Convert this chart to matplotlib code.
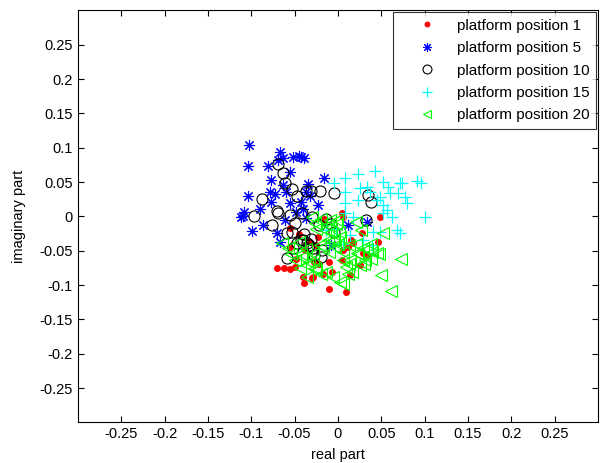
import numpy as np
import matplotlib
matplotlib.use('Agg')
import matplotlib.pyplot as plt

plt.rcParams['font.family'] = ['Liberation Sans', 'DejaVu Sans']

# platform position 1 (red dots)
pos1_re = [-0.070, -0.062, -0.055, -0.050, -0.040, -0.030, -0.039, -0.010, 0.009,
           -0.055, -0.032, -0.023, -0.007, -0.017, -0.029, -0.055, -0.048, -0.045,
           -0.025, -0.028, -0.022, -0.010, -0.016, 0.006, 0.005, 0.048, 0.028,
           0.046, 0.017, 0.012, 0.006, 0.033, 0.029, 0.025, 0.014, 0.005, 0.015,
           -0.038]
pos1_im = [-0.075, -0.075, -0.077, -0.074, -0.088, -0.090, -0.097, -0.106, -0.110,
           -0.017, -0.037, -0.030, -0.081, -0.084, -0.088, -0.044, -0.062, -0.026,
           -0.042, -0.066, -0.069, -0.066, -0.004, -0.001, 0.005, -0.001, -0.024,
           -0.037, -0.039, -0.044, -0.049, -0.056, -0.053, -0.071, -0.085, -0.063,
           -0.034, -0.049]

# platform position 5 (blue asterisks)
pos5_re = [-0.103, -0.104, -0.081, -0.067, -0.063, -0.069, -0.052, -0.045, -0.039,
           -0.043, -0.077, -0.016, -0.104, -0.078, -0.073, -0.060, -0.063, -0.077,
           -0.090, -0.108, -0.112, -0.110, -0.087, -0.099, -0.070, -0.067, -0.035,
           -0.037, -0.043, -0.040, -0.037, -0.008, 0.012, 0.033, -0.055, -0.048,
           -0.061, -0.032, -0.023, -0.055]
pos5_im = [0.104, 0.074, 0.074, 0.094, 0.085, 0.082, 0.087, 0.088, 0.085,
           0.087, 0.053, 0.056, 0.030, 0.036, 0.033, 0.036, 0.046, 0.021,
           0.011, 0.007, -0.001, 0.001, -0.012, -0.021, -0.024, -0.037, 0.047,
           0.036, 0.021, 0.011, -0.002, -0.042, -0.012, -0.008, 0.020, 0.007,
           -0.005, 0.030, 0.017, 0.065]

# platform position 10 (black circles)
pos10_re = [-0.069, -0.063, -0.061, -0.053, -0.047, -0.088, -0.070, -0.097, -0.037,
            -0.031, -0.021, -0.005, 0.035, 0.038, -0.076, -0.055, -0.050, -0.059,
            -0.053, -0.040, -0.047, -0.052, -0.059, -0.036, -0.029, -0.018, -0.042,
            -0.030, -0.022, -0.014, -0.008, -0.005, -0.039, -0.031, -0.043, -0.033,
            -0.028, -0.020, 0.032, -0.069]
pos10_im = [0.077, 0.063, 0.049, 0.040, 0.030, 0.026, 0.008, 0.001, 0.037,
            0.037, 0.037, 0.034, 0.031, 0.021, -0.012, 0.002, -0.009, -0.024,
            -0.023, -0.034, -0.039, -0.046, -0.060, -0.039, -0.046, -0.049, 0.005,
            -0.001, -0.012, -0.004, -0.011, -0.023, -0.026, -0.033, -0.034, -0.042,
            -0.056, -0.059, -0.005, 0.005]

# platform position 15 (cyan plus)
pos15_re = [0.008, 0.023, 0.043, -0.005, 0.008, 0.008, 0.008, 0.023, 0.025,
            0.033, 0.037, 0.045, 0.048, 0.052, 0.058, 0.060, 0.069, 0.072,
            0.074, 0.077, 0.080, 0.091, 0.096, 0.052, 0.052, 0.057, 0.062,
            0.100, 0.017, 0.068, 0.072, 0.040, 0.048, 0.029, 0.039, 0.014,
            -0.002, -0.014, 0.006]
pos15_im = [0.056, 0.062, 0.066, 0.049, 0.036, 0.020, 0.005, 0.024, 0.042,
            0.043, 0.036, 0.024, 0.028, 0.050, 0.043, 0.034, 0.034, 0.049,
            0.049, 0.028, 0.020, 0.052, 0.049, 0.017, 0.005, 0.009, -0.001,
            -0.001, -0.001, -0.020, -0.024, -0.023, -0.023, -0.034, -0.042, -0.027,
            -0.018, -0.020, -0.040]

# platform position 20 (green triangles)
pos20_re = [-0.065, -0.058, -0.054, -0.050, -0.043, -0.037, -0.042, -0.029, -0.029,
            -0.033, -0.036, -0.044, -0.027, -0.020, -0.014, -0.025, -0.036, -0.030,
            -0.027, -0.025, -0.020, -0.012, -0.002, -0.015, -0.009, -0.012, -0.021,
            -0.017, -0.010, -0.045, -0.005, 0.000, -0.008, 0.001, -0.001, 0.002,
            -0.006, 0.006, -0.003, 0.006, 0.013, 0.009, 0.012, 0.006, -0.006,
            0.002, 0.016, 0.021, 0.027, 0.021, 0.013, 0.023, 0.029, 0.022,
            0.039, 0.045, 0.031, 0.025, 0.014, 0.052, 0.038, 0.033, 0.047,
            0.038, 0.030, 0.073, 0.050, 0.061]
pos20_im = [-0.039, -0.046, -0.055, -0.063, -0.055, -0.047, -0.059, -0.055, -0.063,
            -0.066, -0.071, -0.075, -0.075, -0.084, -0.081, -0.078, -0.088, -0.001,
            -0.009, -0.018, -0.004, -0.012, -0.011, -0.020, -0.005, -0.034, -0.042,
            -0.044, -0.052, -0.037, -0.034, -0.040, -0.023, -0.023, -0.005, -0.030,
            -0.034, -0.052, -0.044, -0.063, -0.069, -0.074, -0.084, -0.098, -0.088,
            -0.095, -0.081, -0.008, -0.020, -0.040, -0.042, -0.055, -0.046, -0.053,
            -0.052, -0.053, -0.063, -0.071, -0.063, -0.024, -0.040, -0.047, -0.055,
            -0.062, -0.069, -0.062, -0.085, -0.109]

ticks = [-0.25, -0.2, -0.15, -0.1, -0.05, 0, 0.05, 0.1, 0.15, 0.2, 0.25]
tick_labels = ['-0.25', '-0.2', '-0.15', '-0.1', '-0.05', '0', '0.05', '0.1', '0.15', '0.2', '0.25']

fig = plt.figure(figsize=(6.04, 4.63), dpi=100)
ax = fig.add_axes([0.129, 0.0875, 0.861, 0.89])

ax.plot(pos1_re, pos1_im, '.', color='red', markersize=8, label='platform position 1')
ax.plot(pos5_re, pos5_im, linestyle='none', marker=(8, 2, 0), color='blue',
        markersize=8, markeredgewidth=0.8, label='platform position 5')
ax.plot(pos10_re, pos10_im, 'o', color='black', markerfacecolor='none',
        markersize=8, markeredgewidth=0.8, label='platform position 10')
ax.plot(pos15_re, pos15_im, '+', color='cyan', markersize=8.5,
        markeredgewidth=0.9, label='platform position 15')
ax.plot(pos20_re, pos20_im, '<', color='lime', markerfacecolor='none',
        markersize=8, markeredgewidth=0.8, label='platform position 20')

ax.set_xlim(-0.3, 0.3)
ax.set_ylim(-0.3, 0.3)
ax.set_xticks(ticks)
ax.set_xticklabels(tick_labels)
ax.set_yticks(ticks)
ax.set_yticklabels(tick_labels)
ax.tick_params(direction='in', top=True, right=True, labelsize=10.5, length=4)
ax.set_xlabel('real part', fontsize=10.5, labelpad=5)
ax.set_ylabel('imaginary part', fontsize=10.5, labelpad=10)

leg = ax.legend(loc='upper right', fontsize=11, frameon=True, fancybox=False,
                borderaxespad=0.1, labelspacing=0.55, handletextpad=0.15,
                handlelength=3.6, borderpad=0.45, markerscale=0.8)
leg.get_frame().set_edgecolor('black')
leg.get_frame().set_linewidth(0.8)

plt.savefig('out.png', dpi=100)
